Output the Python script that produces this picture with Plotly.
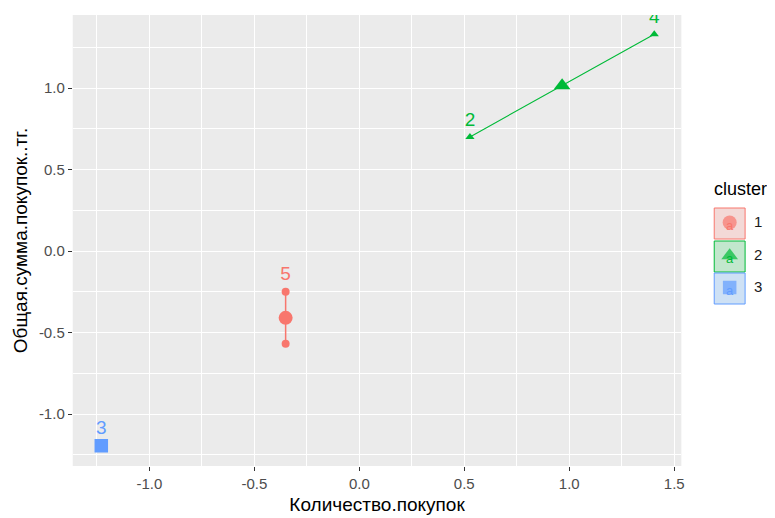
import plotly.graph_objects as go

# ---- data ----
obs_names = ["1", "2", "3", "4", "5"]
obs_x = [-0.351, 0.527, -1.229, 1.405, -0.351]
obs_y = [-0.569, 0.700, -1.194, 1.330, -0.250]
obs_cluster = [1, 2, 3, 2, 1]
hidden_labels = ["1"]          # label dropped in the original (overlap)

cluster_ids = [1, 2, 3]
center_x = [-0.351, 0.966, -1.229]
center_y = [-0.410, 1.015, -1.194]

x_ticks = [-1.0, -0.5, 0.0, 0.5, 1.0, 1.5]
x_ticktext = ["-1.0", "-0.5", "0.0", "0.5", "1.0", "1.5"]
y_ticks = [-1.0, -0.5, 0.0, 0.5, 1.0]
y_ticktext = ["-1.0", "-0.5", "0.0", "0.5", "1.0"]

x_title = "Количество.покупок"
y_title = "Общая.сумма.покупок..тг."
legend_title = "cluster"

# ---- styles ----
colors = {1: "#F8766D", 2: "#00BA38", 3: "#619CFF"}
key_fill = {1: "#F3D9D7", 2: "#C2E7CD", 3: "#CEE1F5"}
symbols = {1: "circle", 2: "triangle-up", 3: "square"}
pt_size = {1: 8, 2: 8, 3: 8}
ctr_size = {1: 14, 2: 14.5, 3: 13.5}
hull_width = {1: 1.5, 2: 1.1, 3: 1.1}
FONT = "Liberation Sans, Arial, sans-serif"
OFF = 8                      # page body margin offset
W, H = 775 - OFF, 518 - OFF

fig = go.Figure()

# convex hulls (line for two-point clusters)
for c in cluster_ids:
    xs = [x for x, k in zip(obs_x, obs_cluster) if k == c]
    ys = [y for y, k in zip(obs_y, obs_cluster) if k == c]
    if len(xs) > 1:
        fig.add_trace(go.Scatter(x=xs + [xs[0]], y=ys + [ys[0]], mode="lines",
                                 line=dict(color=colors[c], width=hull_width[c]),
                                 hoverinfo="skip", showlegend=False))

# observation points
for c in cluster_ids:
    xs = [x for x, k in zip(obs_x, obs_cluster) if k == c]
    ys = [y for y, k in zip(obs_y, obs_cluster) if k == c]
    fig.add_trace(go.Scatter(x=xs, y=ys, mode="markers",
                             marker=dict(symbol=symbols[c], size=pt_size[c],
                                         color=colors[c], line=dict(width=0)),
                             showlegend=False))

# cluster centers
for i, c in enumerate(cluster_ids):
    fig.add_trace(go.Scatter(x=[center_x[i]], y=[center_y[i]], mode="markers",
                             marker=dict(symbol=symbols[c], size=ctr_size[c],
                                         color=colors[c], line=dict(width=0)),
                             showlegend=False))

# labels
for c in cluster_ids:
    sel = [(x, y, n) for x, y, n, k in zip(obs_x, obs_y, obs_names, obs_cluster)
           if k == c and n not in hidden_labels]
    fig.add_trace(go.Scatter(x=[s[0] for s in sel], y=[s[1] for s in sel],
                             text=[s[2] for s in sel], mode="markers+text",
                             textposition="top center",
                             marker=dict(size=9, opacity=0),
                             textfont=dict(family=FONT, size=19, color=colors[c]),
                             cliponaxis=True, showlegend=False, hoverinfo="skip"))

# ---- legend (drawn on a pixel-space helper axis, screen pixel coordinates) ----
key_x0, key_x1 = 717, 748
key_tops = [208, 241, 273]
key_h = 31
for c, top in zip(cluster_ids, key_tops):
    fig.add_shape(type="rect", xref="x2", yref="y2", x0=key_x0, x1=key_x1,
                  y0=top, y1=top + key_h, fillcolor=key_fill[c],
                  line=dict(color=colors[c], width=1), layer="below")
key_cx = [(key_x0 + key_x1) / 2] * 3
key_cy = [t + key_h / 2 for t in key_tops]
fig.add_trace(go.Scatter(x=key_cx, y=[y + 3 for y in key_cy], mode="text", text=["a"] * 3,
                         textfont=dict(family=FONT, size=13, color=[colors[c] for c in cluster_ids]),
                         xaxis="x2", yaxis="y2", showlegend=False, hoverinfo="skip", cliponaxis=False))
fig.add_trace(go.Scatter(x=key_cx, y=[y - 1 for y in key_cy], mode="markers",
                         marker=dict(symbol=[symbols[c] for c in cluster_ids],
                                     size=[ctr_size[c] for c in cluster_ids],
                                     color=[colors[c] for c in cluster_ids], line=dict(width=0)),
                         xaxis="x2", yaxis="y2", showlegend=False, hoverinfo="skip", cliponaxis=False))
fig.add_trace(go.Scatter(x=[757] * 3, y=key_cy, mode="text", text=[str(c) for c in cluster_ids],
                         textposition="middle right",
                         textfont=dict(family=FONT, size=15, color="#1A1A1A"),
                         xaxis="x2", yaxis="y2", showlegend=False, hoverinfo="skip", cliponaxis=False))
fig.add_annotation(xref="x2", yref="y2", x=716, y=189, text=legend_title, showarrow=False,
                   xanchor="left", yanchor="middle", borderpad=0,
                   font=dict(family=FONT, size=18, color="#000000"))

# panel background
fig.add_shape(type="rect", xref="x domain", yref="y domain", x0=0, x1=1, y0=0, y1=1,
              fillcolor="#EBEBEB", line=dict(width=0), layer="below")

# panel edges in screen pixels
px_l, px_r, px_t, px_b = 73, 684, 15, 466
fig.update_layout(
    width=W, height=H,
    margin=dict(l=0, r=0, t=0, b=0),
    paper_bgcolor="white", plot_bgcolor="rgba(0,0,0,0)",
    font=dict(family=FONT),
    showlegend=False,
    xaxis=dict(domain=[(px_l - OFF) / W, (px_r - OFF) / W], range=[-1.365, 1.534],
               tickvals=x_ticks, ticktext=x_ticktext,
               showgrid=True, gridcolor="white", gridwidth=1.4, zeroline=False,
               minor=dict(dtick=0.25, tick0=0, showgrid=True, gridcolor="white", gridwidth=0.6),
               ticks="outside", ticklen=4, tickwidth=1, tickcolor="#333333",
               tickfont=dict(size=15, color="#4D4D4D"), showline=False,
               title=dict(text=x_title, font=dict(size=19, color="#000000"), standoff=6)),
    yaxis=dict(domain=[(H - (px_b - OFF)) / H, (H - (px_t - OFF)) / H], range=[-1.319, 1.448],
               tickvals=y_ticks, ticktext=y_ticktext,
               showgrid=True, gridcolor="white", gridwidth=1.4, zeroline=False,
               minor=dict(dtick=0.25, tick0=0, showgrid=True, gridcolor="white", gridwidth=0.6),
               ticks="outside", ticklen=4, tickwidth=1, tickcolor="#333333",
               tickfont=dict(size=15, color="#4D4D4D"), showline=False,
               title=dict(text=y_title, font=dict(size=19, color="#000000"), standoff=6)),
    xaxis2=dict(domain=[(700 - OFF) / W, 1], range=[700, 775], visible=False, fixedrange=True,
                anchor="y2"),
    yaxis2=dict(domain=[0, 1], range=[518, OFF], visible=False, fixedrange=True, anchor="x2"),
)

fig.write_html("out.html")
